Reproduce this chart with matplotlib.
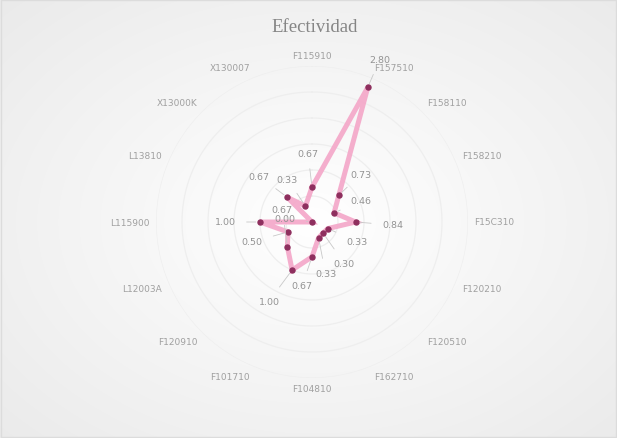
import numpy as np
import matplotlib
matplotlib.use("Agg")
import matplotlib.pyplot as plt

# Data
categories = ["F115910", "F157510", "F158110", "F158210", "F15C310", "F120210",
              "F120510", "F162710", "F104810", "F101710", "F120910", "L12003A",
              "L115900", "L13810", "X13000K", "X130007"]
values = [0.67, 2.80, 0.73, 0.46, 0.84, 0.33, 0.30, 0.33,
          0.67, 1.00, 0.67, 0.50, 1.00, 0.00, 0.67, 0.33]
value_labels = ["0.67", "2.80", "0.73", "0.46", "0.84", "0.33", "0.30", "0.33",
                "0.67", "1.00", "0.67", "0.50", "1.00", "0.00", "0.67", "0.33"]
# label offsets (pixels) from each point, as they sit in the picture
label_dx = [-4, 12, 22, 27, 37, 29, 21, 7, -10, -23, -5, -36, -35, -27, -28, -18]
label_dy = [34, 28, 21, 12, -3, -13, -30, -36, -29, -31, 37, -10, 0, 3, 21, 27]
rings = [0.5, 1.0, 1.5, 2.0, 2.5, 3.0]

W, H, DPI = 617, 439, 100
fig = plt.figure(figsize=(W / DPI, H / DPI), dpi=DPI)

# soft radial background like the excel chart area
bg = fig.add_axes([0, 0, 1, 1], zorder=-5)
yy, xx = np.mgrid[0:H, 0:W]
d = np.sqrt(((xx - 312) / W) ** 2 + ((yy - 223) / H) ** 2)
shade = 1.0 - 0.08 * np.clip(d / 0.7, 0, 1)
bg.imshow(np.dstack([shade, shade, shade]), aspect="auto", extent=[0, 1, 0, 1])
bg.add_patch(plt.Rectangle((0.002, 0.003), 0.996, 0.994, fill=False,
                           ec="#dcdcdc", lw=1, transform=bg.transAxes))
bg.axis("off")

cx, cy, R = 312, 223, 156
ax = fig.add_axes([(cx - R) / W, (H - cy - R) / H, 2 * R / W, 2 * R / H],
                  projection="polar")
ax.set_facecolor("none")
ax.set_theta_zero_location("N")
ax.set_theta_direction(-1)
ax.set_ylim(0, 3.0)
ax.grid(False)
ax.spines["polar"].set_visible(False)
ax.set_xticks([])
ax.set_yticks([])

theta = np.deg2rad(np.arange(len(categories)) * 360 / len(categories))
circ = np.linspace(0, 2 * np.pi, 300)
for r in rings:
    ax.plot(circ, np.full_like(circ, r), color="#eeeeee", lw=0.9, zorder=1)

t_closed = np.append(theta, theta[0])
v_closed = np.append(values, values[0])
ax.plot(t_closed, v_closed, color="#f4a6c8", lw=3.6, solid_joinstyle="miter",
        alpha=0.9, zorder=3)
ax.plot(theta, values, "o", color="#8e2f5e", ms=3.6, zorder=4)

for t, v, txt, dx, dy in zip(theta, values, value_labels, label_dx, label_dy):
    arrow = None
    if np.hypot(dx, dy) > 26:
        arrow = dict(arrowstyle="-", color="#c8c8c8", lw=0.6, shrinkA=6, shrinkB=3)
    ax.annotate(txt, xy=(t, v), xytext=(dx, dy), textcoords="offset pixels",
                ha="center", va="center", fontsize=6.8, color="#939393",
                arrowprops=arrow, zorder=5)

for t, name in zip(theta, categories):
    s, c = np.sin(t), np.cos(t)
    ha = "left" if s > 0.1 else ("right" if s < -0.1 else "center")
    va = "bottom" if c > 0.1 else ("top" if c < -0.1 else "center")
    ax.text(t, 3.12, name, ha=ha, va=va, fontsize=6.5, color="#a0a0a0")

fig.text(315 / W, 1 - 27 / H, "Efectividad", ha="center", va="center",
         fontsize=13.5, color="#858585", family="Liberation Serif")

fig.savefig("out.png", dpi=DPI)
